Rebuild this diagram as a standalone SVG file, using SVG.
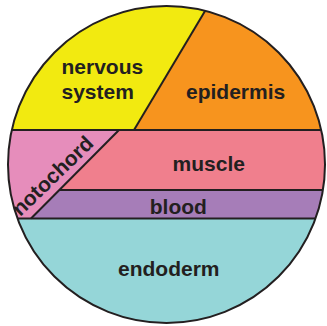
<svg xmlns="http://www.w3.org/2000/svg" width="327" height="326" viewBox="0 0 327 326">
<style>
.lbl{font-family:"Liberation Sans",Arial,sans-serif;font-weight:bold;font-size:21px;fill:#231F20}
.ln{stroke:#231F20;stroke-width:2;fill:none}
</style>
<defs>
<clipPath id="circ"><circle cx="166.5" cy="164.5" r="158.5"/></clipPath>
</defs>
<rect width="327" height="326" fill="#fff"/>
<g clip-path="url(#circ)">
<g id="nervous-system">
<polygon points="0,0 211.6,0 134,130 0,130" fill="#F2EA10"/>
<text class="lbl" x="61.5" y="74.3">nervous</text>
<text class="lbl" x="61.5" y="98.5">system</text>
</g>
<g id="epidermis">
<polygon points="211.6,0 327,0 327,130 134,130" fill="#F7941E"/>
<text class="lbl" x="186" y="99">epidermis</text>
</g>
<g id="notochord">
<polygon points="0,130 119,130 31,218.5 0,218.5" fill="#E68DBB"/>
<text class="lbl" font-size="20" text-anchor="middle" transform="translate(57.5,181) rotate(-44)">notochord</text>
</g>
<g id="muscle">
<polygon points="119,130 327,130 327,190 59.3,190" fill="#F07F8D"/>
<text class="lbl" x="208.8" y="171" text-anchor="middle">muscle</text>
</g>
<g id="blood">
<polygon points="59.3,190 327,190 327,218.5 31,218.5" fill="#A67DB8"/>
<text class="lbl" x="178.3" y="214" text-anchor="middle">blood</text>
</g>
<g id="endoderm">
<polygon points="0,218.5 327,218.5 327,326 0,326" fill="#95D6D8"/>
<text class="lbl" x="168.8" y="276" text-anchor="middle">endoderm</text>
</g>
<g id="borders" class="ln">
<line x1="211.6" y1="0" x2="134" y2="130"/>
<line x1="0" y1="130" x2="327" y2="130"/>
<line x1="119" y1="130" x2="31" y2="218.5"/>
<line x1="59.3" y1="190" x2="327" y2="190"/>
<line x1="0" y1="218.5" x2="327" y2="218.5"/>
</g>
</g>
<circle cx="166.5" cy="164.5" r="158.5" class="ln" stroke-width="2.2"/>
</svg>
